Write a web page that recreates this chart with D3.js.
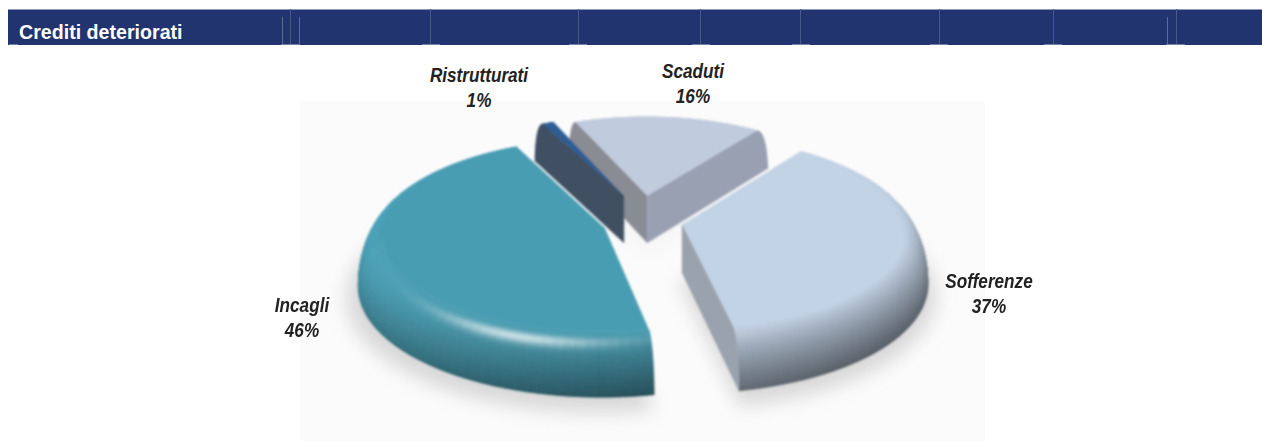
<!DOCTYPE html>
<html>
<head>
<meta charset="utf-8">
<script src="https://cdn.jsdelivr.net/npm/d3@7"></script>
<style>
  html, body { margin: 0; padding: 0; background: #fff; }
  svg { display: block; }
  text { font-family: "Liberation Sans", Arial, sans-serif; }
</style>
</head>
<body>
<svg id="chart" width="1262" height="441"></svg>
<script>
// Values, in clockwise order starting from the back of the pie
const categories = ["Scaduti", "Sofferenze", "Incagli", "Ristrutturati"];
const shares = [16, 37, 46, 1];

// Appearance of each slice
const topColors = ["#c1cbde", "#c3d3e6", "#4a9db2", "#2f5d94"];
const startFaceColors = ["#8a8c94", "#9aa2ad", "#9aa2ad", "#3f4f62"];
const endFaceColors = ["#99a0b2", "#9aa2ad", "#9aa2ad", "#3f4f62"];
// Each slice is pulled away from the centre by this much on the ground plane
const pullX = [0.064, 0.205, -0.112, -0.034];
const pullY = [0.31, 0.03, 0, 0.31];
// The two back slices sit slightly smaller than the front ones
const sliceScale = [0.93, 1, 1, 0.93];
// Label anchors
const labelX = [693, 989, 302, 479];
const labelY = [78, 288, 312, 82];
// Heading band
const bandRules = [290, 430, 578, 700, 800, 939, 1053, 1176];
const bandShortRules = [282, 299, 1167];
const bandFeet = [[9, 18], [281, 300], [422, 440], [569, 587], [692, 710], [792, 810], [930, 948], [1044, 1062], [1166, 1185]];

const svg = d3.select("#chart");
const defs = svg.append("defs");
defs.append("filter").attr("id", "shadowBlur").attr("x", "-20%").attr("y", "-20%").attr("width", "140%").attr("height", "140%")
  .append("feGaussianBlur").attr("stdDeviation", 9);
defs.append("filter").attr("id", "soft").attr("x", "-5%").attr("y", "-5%").attr("width", "110%").attr("height", "110%")
  .append("feGaussianBlur").attr("stdDeviation", 0.85);

// Heading band
svg.append("rect").attr("x", 8).attr("y", 9).attr("width", 1254).attr("height", 36).attr("fill", "#22346f");
svg.append("rect").attr("x", 8).attr("y", 9).attr("width", 1254).attr("height", 1).attr("fill", "#8e95b6");
svg.selectAll("line.rule").data(bandRules).join("line").attr("class", "rule")
  .attr("x1", d => d + 0.5).attr("x2", d => d + 0.5).attr("y1", 9).attr("y2", 45)
  .attr("stroke", "#4a5787").attr("stroke-width", 1);
svg.selectAll("line.short").data(bandShortRules).join("line").attr("class", "short")
  .attr("x1", d => d + 0.5).attr("x2", d => d + 0.5).attr("y1", 17).attr("y2", 45)
  .attr("stroke", "#5d6996").attr("stroke-width", 1);
svg.selectAll("rect.foot").data(bandFeet).join("rect").attr("class", "foot")
  .attr("x", d => d[0]).attr("width", d => d[1] - d[0]).attr("y", 44).attr("height", 1).attr("fill", "#7681a8");
svg.append("text").attr("transform", "translate(19,39) scale(0.935,1)").attr("fill", "#fff")
  .attr("font-size", 21).attr("font-weight", "bold").text("Crediti deteriorati");

// Pale panel behind the pie
svg.append("rect").attr("x", 300).attr("y", 101).attr("width", 685).attr("height", 340).attr("fill", "#fbfbfb");

// Perspective view of a tilted, bevelled disc
const view = { cx: 632, cy: 228, a: 245, b: 106, depth: 0.09, height: 48 };
const plateRadius = 0.9;
function project(i, r, angle, z) {
  const X = r * sliceScale[i] * Math.sin(angle) + pullX[i];
  const Y = r * sliceScale[i] * Math.cos(angle) + pullY[i];
  const p = 1 / (1 + view.depth * Y);
  return [view.cx + view.a * X * p, view.cy + (-view.b * Y + view.height * (1 - z)) * p];
}
// Bevel profile: t runs from the flat plate (0) to the outer foot (1)
const profile = t => ({
  r: plateRadius + (1 - plateRadius) * Math.sin(t * Math.PI / 2),
  z: Math.cos(t * Math.PI / 2)
});

// Light, half vector and surface shading
const light = [-0.4, 0.3, 0.87];
const halfway = [-0.15, -0.42, 0.89];
const dot = (u, v) => u[0] * v[0] + u[1] * v[1] + u[2] * v[2];
const lambert = n => 0.22 + 0.78 * (0.5 + 0.5 * dot(n, light));
function shade(base, angle, t) {
  const phi = t * Math.PI / 2;
  const n = [Math.sin(angle) * Math.sin(phi), Math.cos(angle) * Math.sin(phi), Math.cos(phi)];
  const k = lambert(n) / lambert([0, 0, 1]);
  const s = Math.pow(Math.max(0, dot(n, halfway)), 80) * 1;
  const c = d3.rgb(base);
  const ch = v => Math.min(255, v * k + (255 - v * k) * s);
  return d3.rgb(ch(c.r), ch(c.g), ch(c.b)).formatHex();
}

const arcs = d3.pie().sort(null).startAngle(-22 * Math.PI / 180).endAngle(338 * Math.PI / 180)(shares);
const polygon = d3.line();
const signedArea = pts => d3.polygonArea(pts);

// Soft shadows on the floor
const shadowLayer = svg.append("g").attr("filter", "url(#shadowBlur)");
arcs.forEach((d, i) => {
  const pts = [project(i, 0, 0, 0)].concat(d3.range(0, 41).map(j =>
    project(i, 1.04, d.startAngle + (d.endAngle - d.startAngle) * j / 40, 0)));
  shadowLayer.append("path").attr("d", polygon(pts) + "Z").attr("fill", i === 0 || i === 3 ? "#f4f4f4" : "#d8d8d8")
    .attr("transform", "translate(-2,10)");
});

// Slices, painted from back to front
const pieLayer = svg.append("g").attr("filter", "url(#soft)");
const ringCount = 22;
[0, 3, 1, 2].forEach(i => {
  const d = arcs[i];
  const g = pieLayer.append("g").attr("class", "slice").attr("data-name", categories[i]);

  // Bevel bands, outermost first so the plate covers the far rim
  const steps = Math.max(2, Math.round((d.endAngle - d.startAngle) / (2.5 * Math.PI / 180)));
  const angleAt = j => d.startAngle + (d.endAngle - d.startAngle) * j / steps;
  d3.range(ringCount, 0, -1).forEach(k => {
    const outer = profile(k / ringCount);
    const inner = profile((k - 1) / ringCount);
    d3.range(steps).forEach(j => {
      const a0 = angleAt(j), a1 = angleAt(j + 1);
      const color = shade(topColors[i], (a0 + a1) / 2, (k - 0.5) / ringCount);
      const quad = [project(i, outer.r, a0, outer.z), project(i, outer.r, a1, outer.z),
                    project(i, inner.r, a1, inner.z), project(i, inner.r, a0, inner.z)];
      g.append("path").attr("d", polygon(quad) + "Z").attr("fill", color).attr("stroke", color).attr("stroke-width", 0.7);
    });
  });

  // Flat top plate
  const plate = [project(i, 0, 0, 1)].concat(d3.range(steps + 1).map(j => project(i, plateRadius, angleAt(j), 1)));
  g.append("path").attr("d", polygon(plate) + "Z").attr("fill", topColors[i]).attr("stroke", topColors[i]).attr("stroke-width", 0.5);

  // Cut faces, kept only where they turn towards the viewer
  [[d.startAngle, startFaceColors[i], 1], [d.endAngle, endFaceColors[i], -1]].forEach(([angle, color, side]) => {
    const pts = [project(i, 0, angle, 1)]
      .concat(d3.range(0, ringCount + 1).map(k => {
        const q = profile(k / ringCount);
        return project(i, q.r, angle, q.z);
      }))
      .concat([project(i, 0, angle, 0)]);
    if (signedArea(pts) * side > 0) {
      g.append("path").attr("d", polygon(pts) + "Z").attr("fill", color).attr("stroke", color).attr("stroke-width", 0.5);
    }
  });
});

// Labels: name on the first line, share on the second
const labelLayer = svg.append("g").attr("font-size", 19.5).attr("font-weight", "bold")
  .attr("font-style", "italic").attr("fill", "#222").attr("text-anchor", "middle");
arcs.forEach((d, i) => {
  labelLayer.append("text").attr("transform", `translate(${labelX[i]},${labelY[i]}) scale(0.88,1)`).text(categories[i]);
  labelLayer.append("text").attr("transform", `translate(${labelX[i]},${labelY[i] + 24.5}) scale(0.88,1)`).text(d.data + "%");
});
</script>
</body>
</html>
